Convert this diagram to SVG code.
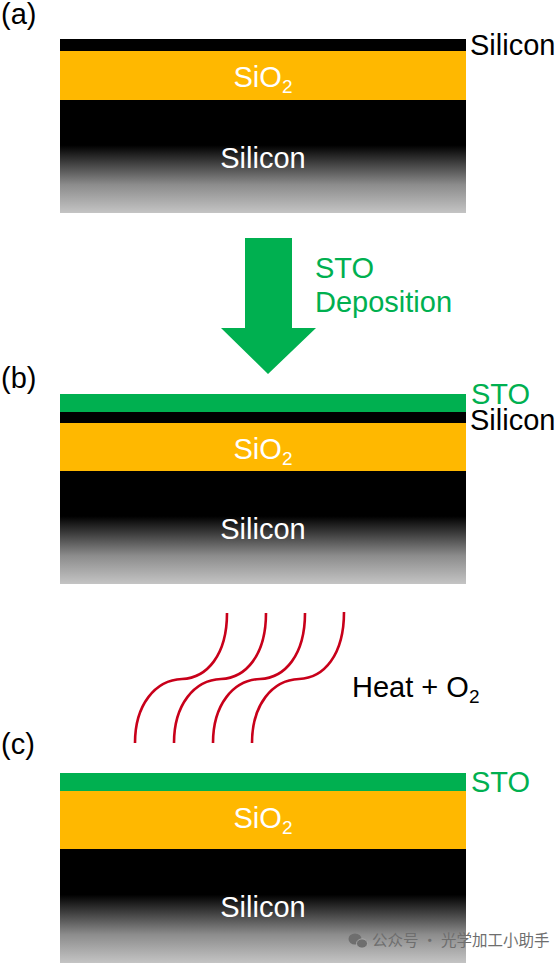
<svg xmlns="http://www.w3.org/2000/svg" width="559" height="963" viewBox="0 0 559 963">
  <defs>
    <linearGradient id="siGrad" x1="0" y1="0" x2="0" y2="1">
      <stop offset="0" stop-color="#000000"/>
      <stop offset="0.4" stop-color="#000000"/>
      <stop offset="0.75" stop-color="#8c8c8c"/>
      <stop offset="1" stop-color="#c4c4c4"/>
    </linearGradient>
  </defs>
  <style>
    text { font-family: "Liberation Sans", Arial, sans-serif; font-size: 29px; }
    .white { fill: #ffffff; }
    .black { fill: #000000; }
    .green { fill: #00B050; }
    .mid { text-anchor: middle; }
    .sub { font-size: 19px; }
    .oxide { fill: #FFB800; }
    .sto { fill: #00B050; }
    .si { fill: #000000; }
    .bulk { fill: url(#siGrad); }
    .wave { fill: none; stroke: #C8001A; stroke-width: 2.6; stroke-linecap: butt; }
    .wm { font-family: "Noto Sans CJK SC", "Liberation Sans", sans-serif; font-size: 15.5px; fill: #6e6e6e; }
  </style>
  <rect width="559" height="963" fill="#ffffff"/>

  <!-- Panel (a) -->
  <g id="panel-a">
    <text x="1" y="24" class="black">(a)</text>
    <rect x="60" y="39" width="406" height="12" class="si"/>
    <rect x="60" y="51" width="406" height="49" class="oxide"/>
    <rect x="60" y="100" width="406" height="113" class="bulk"/>
    <text x="263" y="87" class="white mid">SiO<tspan class="sub" dy="6">2</tspan></text>
    <text x="263" y="168" class="white mid">Silicon</text>
    <text x="470" y="55" class="black">Silicon</text>
  </g>

  <!-- Connectors -->
  <g id="connectors">
    <polygon id="deposition-arrow" class="sto" points="245,238 292,238 292,328 316,328 268,374 221,328 245,328"/>
    <g id="heat-waves">
      <path class="wave" d="M135,743 C135,705 155,680 182,679 C207,678 227,655 227,613"/>
      <path class="wave" d="M174,743 C174,705 194,680 221,679 C246,678 266,655 266,613"/>
      <path class="wave" d="M213,743 C213,705 233,680 260,679 C285,678 305,655 305,613"/>
      <path class="wave" d="M252,743 C252,705 272,680 299,679 C324,678 344,655 344,612"/>
    </g>
  </g>

  <g id="label-deposition">
    <text x="315" y="278" class="green">STO</text>
    <text x="315" y="312" class="green">Deposition</text>
  </g>

  <!-- Panel (b) -->
  <g id="panel-b">
    <text x="1" y="388" class="black">(b)</text>
    <rect x="60" y="394" width="406" height="18" class="sto"/>
    <rect x="60" y="412" width="406" height="11" class="si"/>
    <rect x="60" y="423" width="406" height="48" class="oxide"/>
    <rect x="60" y="471" width="406" height="113" class="bulk"/>
    <text x="263" y="459" class="white mid">SiO<tspan class="sub" dy="6">2</tspan></text>
    <text x="263" y="539" class="white mid">Silicon</text>
    <text x="471" y="404" class="green">STO</text>
    <text x="470" y="430" class="black">Silicon</text>
  </g>

  <g id="label-heat">
    <text x="352" y="697" class="black">Heat + O<tspan class="sub" dy="6">2</tspan></text>
  </g>

  <!-- Panel (c) -->
  <g id="panel-c">
    <text x="1" y="754" class="black">(c)</text>
    <rect x="60" y="773" width="406" height="18" class="sto"/>
    <rect x="60" y="791" width="406" height="58" class="oxide"/>
    <rect x="60" y="849" width="406" height="114" class="bulk"/>
    <text x="263" y="828" class="white mid">SiO<tspan class="sub" dy="6">2</tspan></text>
    <text x="263" y="917" class="white mid">Silicon</text>
    <text x="471" y="792" class="green">STO</text>
  </g>

  <!-- Watermark -->
  <g id="watermark">
    <ellipse cx="355" cy="939" rx="6.5" ry="5.5" fill="#6e6e6e"/>
    <ellipse cx="362" cy="943.5" rx="5.5" ry="4.6" fill="#6e6e6e" stroke="#b0b0b0" stroke-width="0.8"/>
    <text x="372" y="946" class="wm">公众号 · 光学加工小助手</text>
  </g>
</svg>
